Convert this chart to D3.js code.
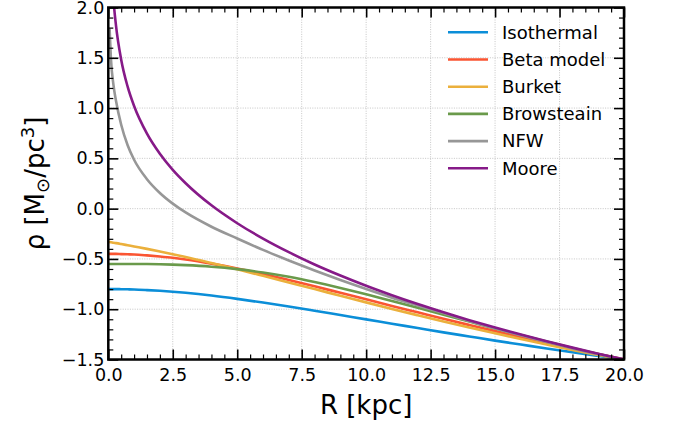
<!DOCTYPE html>
<html>
<head>
<meta charset="utf-8">
<script src="https://cdn.jsdelivr.net/npm/d3@7"></script>
<style>
  body { margin: 0; background: #fff; }
  svg { display: block; font-family: 'DejaVu Sans', sans-serif; }
  .grid line { stroke: #b8b8b8; stroke-width: 0.8; stroke-dasharray: 1, 1.4; }
  .axis .domain { display: none; }
  .axis line { stroke: #000; }
  .axis text { font-size: 17.5px; fill: #000; font-family: 'DejaVu Sans', sans-serif; }
</style>
</head>
<body>
<svg id="chart"></svg>
<script>
// radius in kpc, shared by all profiles
const radius = [0, 0.05, 0.1, 0.2, 0.3, 0.5, 0.75, 1, 1.5, 2, 2.5, 3, 4, 5, 6, 7, 8, 9, 10, 11, 12, 13, 14, 15, 16, 17, 18, 19, 20]

// log10 density (null = off the chart)
const isothermal = [-0.8, -0.8, -0.8, -0.8, -0.8, -0.801, -0.802, -0.804, -0.81, -0.817, -0.826, -0.837, -0.864, -0.897, -0.934, -0.973, -1.015, -1.058, -1.101, -1.144, -1.187, -1.23, -1.271, -1.312, -1.351, -1.39, -1.427, -1.464, -1.499]
const betaModel = [-0.45, -0.45, -0.45, -0.45, -0.45, -0.452, -0.454, -0.456, -0.465, -0.476, -0.489, -0.506, -0.547, -0.595, -0.65, -0.71, -0.772, -0.837, -0.902, -0.967, -1.031, -1.095, -1.157, -1.218, -1.277, -1.335, -1.391, -1.446, -1.498]
const burket = [-0.33, -0.332, -0.334, -0.339, -0.343, -0.352, -0.364, -0.376, -0.4, -0.426, -0.453, -0.481, -0.541, -0.603, -0.668, -0.734, -0.8, -0.866, -0.932, -0.997, -1.06, -1.122, -1.182, -1.24, -1.296, -1.351, -1.405, -1.456, -1.506]
const browstein = [-0.55, -0.55, -0.55, -0.55, -0.55, -0.55, -0.55, -0.55, -0.551, -0.553, -0.557, -0.562, -0.577, -0.601, -0.635, -0.678, -0.73, -0.788, -0.851, -0.918, -0.986, -1.055, -1.123, -1.191, -1.257, -1.322, -1.385, -1.445, -1.504]
const nfw = [null, 1.79, 1.5, 1.23, 1.07, 0.834, 0.63, 0.486, 0.293, 0.156, 0.05, -0.038, -0.18, -0.297, -0.41, -0.515, -0.615, -0.71, -0.8, -0.885, -0.963, -1.038, -1.118, -1.19, -1.26, -1.327, -1.39, -1.447, -1.5]
const moore = [null, 2.99, 2.53, 2.08, 1.817, 1.481, 1.213, 1.021, 0.746, 0.546, 0.386, 0.253, 0.033, -0.145, -0.298, -0.433, -0.555, -0.665, -0.767, -0.861, -0.949, -1.031, -1.109, -1.183, -1.252, -1.319, -1.382, -1.442, -1.5]

const seriesNames = ['Isothermal', 'Beta model', 'Burket', 'Browsteain', 'NFW', 'Moore']
const seriesValues = [isothermal, betaModel, burket, browstein, nfw, moore]
const seriesColors = ['#0b8ed8', '#fa5532', '#ebb03c', '#6a9a4b', '#979797', '#861a88']

const xMajor = [0, 2.5, 5, 7.5, 10, 12.5, 15, 17.5, 20]
const yMajor = [-1.5, -1.0, -0.5, 0.0, 0.5, 1.0, 1.5, 2.0]

var margin = { top: 7.5, right: 51, bottom: 68.5, left: 108.3 },
  width = 675 - margin.left - margin.right,
  height = 428 - margin.top - margin.bottom

var root = d3.select('#chart').attr('width', 675).attr('height', 428)
var svg = root.append('g').attr('transform', 'translate(' + margin.left + ',' + margin.top + ')')

const xScale = d3.scaleLinear().domain([0, 20]).range([0, width])
const yScale = d3.scaleLinear().domain([-1.5, 2]).range([height, 0])

const xMinor = d3.range(0, 20.001, 0.5).filter((v) => Math.abs(v / 2.5 - Math.round(v / 2.5)) > 1e-6)
const yMinor = d3.range(-1.5, 2.001, 0.1).filter((v) => Math.abs(v / 0.5 - Math.round(v / 0.5)) > 1e-6)

// dotted grid at the major ticks
svg.append('g').attr('class', 'grid')
  .selectAll('line').data(xMajor.slice(1, -1)).enter().append('line')
  .attr('x1', (d) => xScale(d)).attr('x2', (d) => xScale(d))
  .attr('y1', 0).attr('y2', height)
svg.append('g').attr('class', 'grid')
  .selectAll('line').data(yMajor.slice(1, -1)).enter().append('line')
  .attr('y1', (d) => yScale(d)).attr('y2', (d) => yScale(d))
  .attr('x1', 0).attr('x2', width)

// curves, clipped to the plot box
svg.append('clipPath').attr('id', 'clip').append('rect')
  .attr('width', width).attr('height', height)

const line = d3.line()
  .defined((d) => d[1] !== null)
  .x((d) => xScale(d[0]))
  .y((d) => yScale(d[1]))
  .curve(d3.curveMonotoneX)

const curves = svg.append('g').attr('clip-path', 'url(#clip)')
seriesValues.forEach((vals, i) => {
  curves.append('path')
    .datum(radius.map((r, j) => [r, vals[j]]))
    .attr('fill', 'none')
    .attr('stroke', seriesColors[i])
    .attr('stroke-width', 2.6)
    .attr('d', line)
})

// inward ticks on all four sides
const fmt = d3.format('.1f')
function addAxis(axis, cls, transform) {
  const g = svg.append('g').attr('class', 'axis ' + cls)
  if (transform) g.attr('transform', transform)
  g.call(axis)
  return g
}
addAxis(d3.axisBottom(xScale).tickValues(xMajor).tickSize(-10).tickPadding(9).tickFormat((d) => fmt(d)), 'major', `translate(0,${height})`)
addAxis(d3.axisBottom(xScale).tickValues(xMinor).tickSize(-5).tickFormat(''), 'minor', `translate(0,${height})`)
addAxis(d3.axisTop(xScale).tickValues(xMajor).tickSize(-10).tickFormat(''), 'major')
addAxis(d3.axisTop(xScale).tickValues(xMinor).tickSize(-5).tickFormat(''), 'minor')
addAxis(d3.axisLeft(yScale).tickValues(yMajor).tickSize(-10).tickPadding(4).tickFormat((d) => fmt(d)), 'major')
addAxis(d3.axisLeft(yScale).tickValues(yMinor).tickSize(-5).tickFormat(''), 'minor')
addAxis(d3.axisRight(yScale).tickValues(yMajor).tickSize(-10).tickFormat(''), 'major', `translate(${width},0)`)
addAxis(d3.axisRight(yScale).tickValues(yMinor).tickSize(-5).tickFormat(''), 'minor', `translate(${width},0)`)
svg.selectAll('.major line').attr('stroke-width', 1.6)
svg.selectAll('.minor line').attr('stroke-width', 1.2)

svg.append('rect')
  .attr('width', width).attr('height', height)
  .attr('fill', 'none').attr('stroke', '#000').attr('stroke-width', 2.5)

// axis labels
svg.append('text')
  .attr('x', width / 2).attr('y', height + 54)
  .attr('text-anchor', 'middle')
  .style('font-size', '26px')
  .text('R [kpc]')

const ylab = svg.append('text')
  .attr('transform', `translate(${-64},${height / 2}) rotate(-90)`)
  .attr('text-anchor', 'middle')
  .style('font-size', '26px')
ylab.append('tspan').text('ρ [M')
ylab.append('tspan').attr('dy', 5).style('font-size', '18px').text('⊙')
ylab.append('tspan').attr('dy', -5).text('/pc')
ylab.append('tspan').attr('dy', -10).style('font-size', '18px').text('3')
ylab.append('tspan').attr('dy', 10).text(']')

// legend
const legend = root.append('g').attr('transform', 'translate(448,32.3)')
seriesNames.forEach((name, i) => {
  const row = legend.append('g').attr('transform', `translate(0,${i * 27.2})`)
  row.append('line').attr('x1', 0).attr('x2', 40)
    .attr('stroke', seriesColors[i]).attr('stroke-width', 2.6)
  row.append('text').attr('x', 54).attr('dy', '0.35em')
    .style('font-size', '18px').text(name)
})
</script>
</body>
</html>
